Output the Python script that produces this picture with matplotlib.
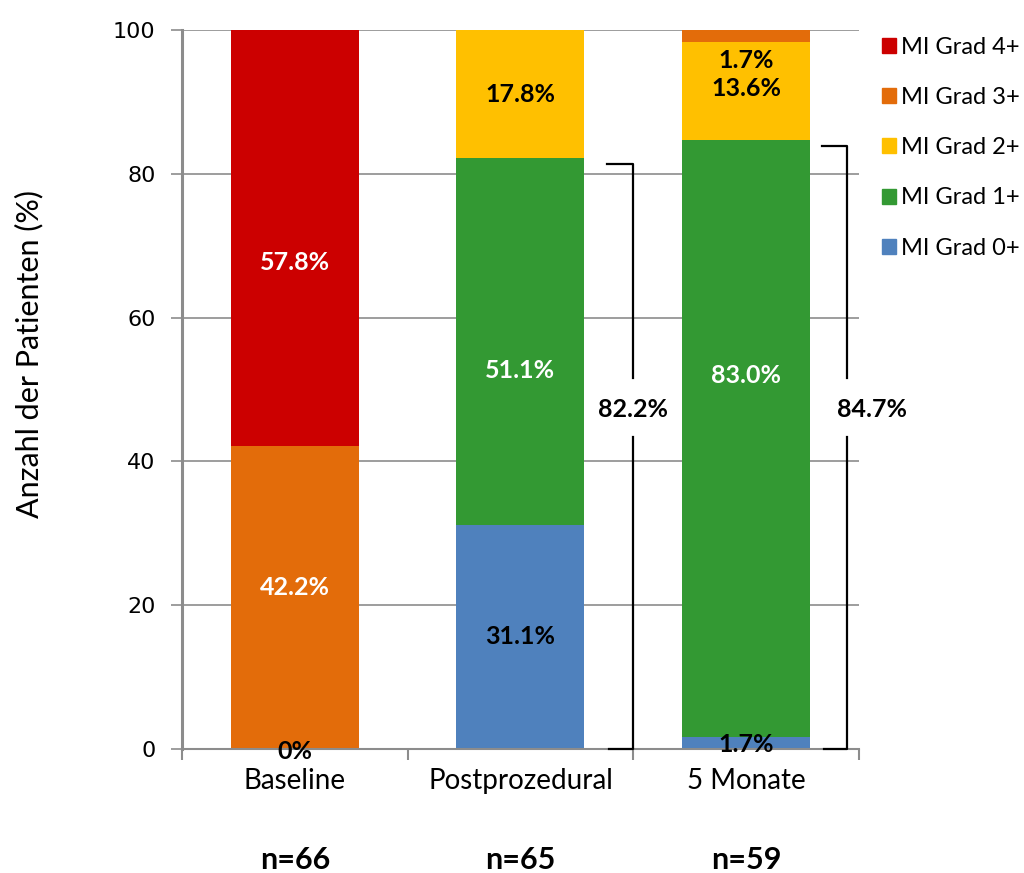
import numpy as np
import matplotlib.pyplot as plt
from matplotlib.patches import Patch

# Daten: Anteil der Patienten je MI-Grad (%)
zeitpunkte = ["Baseline", "Postprozedural", "5 Monate"]
fallzahlen = ["n=66", "n=65", "n=59"]
grade = ["MI Grad 0+", "MI Grad 1+", "MI Grad 2+", "MI Grad 3+", "MI Grad 4+"]
grad0 = [0.0, 31.1, 1.7]
grad1 = [0.0, 51.1, 83.0]
grad2 = [0.0, 17.8, 13.6]
grad3 = [42.2, 0.0, 1.7]
grad4 = [57.8, 0.0, 0.0]
# Summe Grad 0+ und 1+ (Klammern rechts)
summe_01 = [82.2, 84.7]

farben = ["#4F81BD", "#339933", "#FFC000", "#E36C0A", "#CC0000"]
schrift = ["Lato", "DejaVu Sans"]

fig = plt.figure(figsize=(10.24, 8.73), dpi=100)
ax = fig.add_axes([0.1777, 0.142, 0.6611, 0.8236])

x = np.arange(len(zeitpunkte))
breite = 0.567
serien = [grad0, grad1, grad2, grad3, grad4]
unten = np.zeros(len(x))
for werte, farbe in zip(serien, farben):
    ax.bar(x, werte, breite, bottom=unten, color=farbe, zorder=2)
    unten += np.array(werte)

# Beschriftungen in den Balken (Position von Hand gesetzt)
def label(xp, yp, wert, farbe, fmt="{:.1f}%"):
    ax.text(xp, yp, fmt.format(wert), ha="center", va="center", color=farbe,
            fontsize=18, fontweight="bold", family=schrift, zorder=4)

label(0, 67.7, grad4[0], "white")
label(0, 22.4, grad3[0], "white")
label(0, -0.3, grad0[0], "black", "{:.0f}%")
label(1, 15.6, grad0[1], "black")
label(1, 52.7, grad1[1], "white")
label(1, 91.0, grad2[1], "black")
label(2, 0.6, grad0[2], "black")
label(2, 51.9, grad1[2], "white")
label(2, 91.9, grad2[2], "black")
label(2, 95.8, grad3[2], "black")

# Klammern für Grad 0+ und 1+
for xs, x0, wert, xt in [(1.498, 1.383, summe_01[0], 1.498),
                         (2.447, 2.336, summe_01[1], 2.56)]:
    kw = dict(color="black", lw=1.6, zorder=3, clip_on=False)
    ax.plot([x0, xs, xs], [wert - 0.8, wert - 0.8, 51.6], **kw)
    ax.plot([x0 + 0.01, xs, xs], [0, 0, 43.4], **kw)
    ax.text(xt, 47.2, f"{wert:.1f}%", ha="center", va="center",
            fontsize=18, fontweight="bold", family=schrift, clip_on=False)

ax.set_xlim(-0.5, 2.5)
ax.set_ylim(0, 100)
ax.set_yticks(range(0, 101, 20))
ax.set_yticklabels([str(v) for v in range(0, 101, 20)], family="DejaVu Sans")
ax.yaxis.grid(True, color="#8c8c8c", lw=1.2, zorder=0)
ax.set_axisbelow(True)

ax.set_xticks(x)
ax.set_xticklabels(zeitpunkte, fontsize=20, family=schrift)
ax.set_xticks([-0.5, 0.5, 1.5, 2.5], minor=True)
ax.tick_params(axis="x", which="major", length=0, pad=14)
ax.tick_params(axis="x", which="minor", length=8, color="#8c8c8c", width=1.5)
ax.tick_params(axis="y", length=8, color="#8c8c8c", width=1.2, labelsize=16, pad=11)

for s in ["top", "right"]:
    ax.spines[s].set_visible(False)
ax.spines["left"].set_color("#8c8c8c")
ax.spines["left"].set_linewidth(2.2)
ax.spines["bottom"].set_color("#8c8c8c")
ax.spines["bottom"].set_linewidth(1.5)

ax.set_ylabel("Anzahl der Patienten (%)", fontsize=22, family=schrift)
ax.yaxis.set_label_coords(-0.205, 0.55)

# Fallzahlen unter den Zeitpunkten
for xi, n in zip(x, fallzahlen):
    ax.text(xi, -15.5, n, ha="center", va="center", fontsize=22,
            fontweight="bold", family=schrift, clip_on=False)

handles = [Patch(color=c, label=g) for c, g in zip(farben[::-1], grade[::-1])]
fig.legend(handles=handles, loc="upper left", bbox_to_anchor=(0.861, 0.958),
           frameon=False, prop={"family": schrift, "size": 17},
           borderpad=0, borderaxespad=0,
           handlelength=0.6, handleheight=0.6, handletextpad=0.2,
           labelspacing=1.24)

fig.savefig("out.png", dpi=100)
